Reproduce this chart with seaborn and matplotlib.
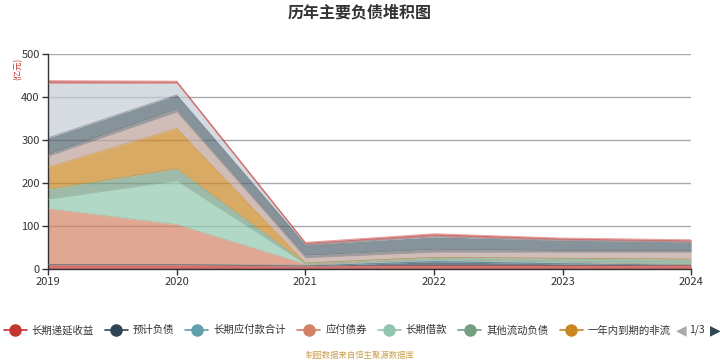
import matplotlib
matplotlib.use("Agg")
import matplotlib.pyplot as plt
from matplotlib.lines import Line2D
import seaborn as sns
import numpy as np
import pandas as pd

# ------------------------------------------------------------------
# Data (亿元), bottom layer first
# ------------------------------------------------------------------
years = [2019, 2020, 2021, 2022, 2023, 2024]

series_names = ['长期递延收益', '预计负债', '长期应付款合计', '应付债券', '长期借款',
                '其他流动负债', '一年内到期的非流', '长期应付职工薪酬', '租赁负债',
                '应付账款', '短期借款', '其他']

deferred_income = [10, 10, 7, 8, 8, 8]
provisions = [0, 0, 0, 9, 4, 1]
long_term_payables = [0, 0, 2, 5, 4, 1]
bonds_payable = [130, 93, 2, 0, 0, 0]
long_term_loans = [22, 102, 1, 2, 2, 2]
other_current = [23, 28, 2, 3, 7, 11]
due_within_year = [52, 94, 0, 0, 0, 0]
employee_payables = [25, 38, 12, 12, 14, 16]
lease_liabilities = [5, 8, 6, 7, 4, 4]
accounts_payable = [38, 32, 25, 29, 24, 20]
short_term_loans = [127, 27, 0, 1, 0, 0]
others = [6, 5, 5, 6, 5, 5]

values = [deferred_income, provisions, long_term_payables, bonds_payable, long_term_loans,
          other_current, due_within_year, employee_payables, lease_liabilities,
          accounts_payable, short_term_loans, others]

COLOURS = ['#c23531', '#2f4554', '#61a0a8', '#d48265', '#91c7ae', '#749f83',
           '#ca8622', '#bda29a', '#6e7074', '#546570', '#c4ccd3', '#c23531']

# ------------------------------------------------------------------
# Plot
# ------------------------------------------------------------------
sns.set_theme(style='white')
plt.rcParams['font.family'] = ['Noto Sans CJK SC', 'DejaVu Sans']

fig = plt.figure(figsize=(7.2, 3.6), dpi=100)
ax = fig.add_axes([0.0667, 0.2528, 0.8933, 0.5972])

df = pd.DataFrame(dict(zip(series_names, values)), index=years)
cum = df.cumsum(axis=1)

lower = np.zeros(len(years))
for i, name in enumerate(series_names):
    upper = cum[name].values
    ax.fill_between(years, lower, upper, color=COLOURS[i], alpha=0.7, linewidth=0, zorder=2)
    lower = upper

# thin outline of each stacked layer
long_df = cum.reset_index().melt(id_vars='index', var_name='series', value_name='total')
sns.lineplot(data=long_df, x='index', y='total', hue='series', palette=COLOURS,
             linewidth=0.6, alpha=0.5, legend=False, ax=ax, zorder=3)

ax.set_xlim(2019, 2024)
ax.set_ylim(0, 500)
ax.set_xticks(years)
ax.set_yticks(range(0, 501, 100))
ax.yaxis.grid(True, color='#aaaaaa', linewidth=1, zorder=1)
ax.set_axisbelow(True)
ax.set_xlabel('')
ax.set_ylabel('')

for side in ['top', 'right']:
    ax.spines[side].set_visible(False)
ax.spines['left'].set_color('#333333')
ax.spines['bottom'].set_color('#333333')
ax.spines['left'].set_linewidth(1)
ax.spines['bottom'].set_linewidth(1)
ax.tick_params(axis='both', labelsize=8, colors='#333333', length=4, width=1,
               bottom=True, left=True, pad=2)

fig.text(0.5, 0.965, '历年主要负债堆积图', ha='center', va='center',
         fontsize=11.5, fontweight='bold', color='#333333')
fig.text(0.025, 0.81, '(亿元)', ha='center', va='center', rotation=90,
         fontsize=6, color='#c23531')

handles = [Line2D([0], [0], color=COLOURS[i], marker='o', markersize=8, linewidth=1.2)
           for i in range(7)]
fig.legend(handles, series_names[:7], loc='center left', bbox_to_anchor=(-0.008, 0.083),
           ncol=7, frameon=False, fontsize=7.5, handlelength=2.2, handletextpad=0.5,
           columnspacing=1.05, labelcolor='#333333')

fig.text(0.946, 0.083, '◀', ha='center', va='center', fontsize=10, color='#aaaaaa',
         family=['DejaVu Sans'])
fig.text(0.968, 0.083, '1/3', ha='center', va='center', fontsize=7.5, color='#333333')
fig.text(0.993, 0.083, '▶', ha='center', va='center', fontsize=10, color='#2f4554',
         family=['DejaVu Sans'])

fig.text(0.5, 0.014, '制图数据来自恒生聚源数据库', ha='center', va='center',
         fontsize=6, color='#c8a050')

fig.savefig('out.png', dpi=100)
